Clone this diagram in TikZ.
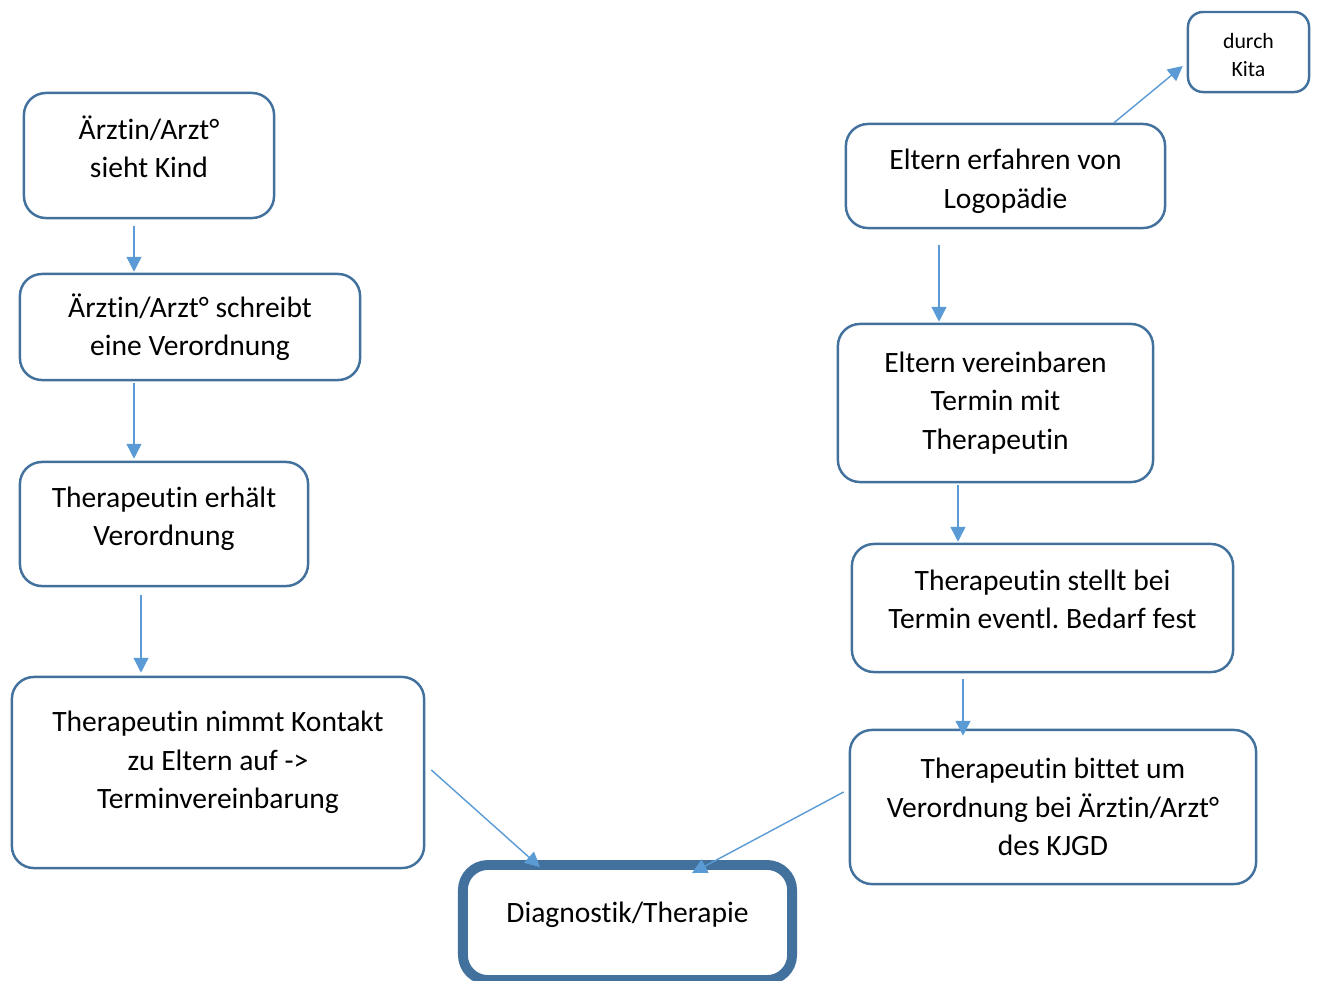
\documentclass[tikz,border=0pt]{standalone}
\usepackage{fontspec}
\setmainfont{Carlito}[Ligatures=NoCommon]
\usepackage{tikz}
\usetikzlibrary{positioning,calc,arrows.meta}
\definecolor{boxblue}{HTML}{41719C}
\definecolor{arrowblue}{HTML}{5B9BD5}
\newcommand{\dropby}[1]{\rule[-#1]{0pt}{0pt}}
\newcommand{\topby}[1]{\rule{0pt}{#1}}
\frenchspacing

\begin{document}
\begin{tikzpicture}[
  x=0.01cm,y=-0.01cm,
  stepbox/.style={draw=boxblue,line width=0.7pt,rounded corners=0.22cm,
    align=center,inner sep=0pt,font=\fontsize{8.4}{10.9}\selectfont},
  mainbox/.style={stepbox,line width=2.8pt,rounded corners=0.25cm},
  arr/.style={-{Triangle[length=4.2pt,width=4.2pt]},draw=arrowblue,
    fill=arrowblue,line width=0.4pt}
  ]
  \useasboundingbox (0,0) rectangle (1317,981);

  % left column
  \node[stepbox,minimum width=2.50cm,minimum height=1.25cm] (sieht) at (149,155.5)
    {Ärztin/Arzt°\\sieht Kind\dropby{5.1pt}};
  \node[stepbox,minimum width=3.40cm,minimum height=1.06cm] (schreibt) at (190,327)
    {Ärztin/Arzt° schreibt\\eine Verordnung};
  \node[stepbox,minimum width=2.88cm,minimum height=1.24cm] (erhaelt) at (164,524)
    {Therapeutin erhält\\Verordnung\dropby{4.3pt}};
  \node[stepbox,minimum width=4.12cm,minimum height=1.91cm] (kontakt) at (218,772.5)
    {Therapeutin nimmt Kontakt\\zu Eltern auf ->\\Terminvereinbarung\dropby{7.1pt}};

  % goal
  \node[mainbox,minimum width=3.29cm,minimum height=1.15cm] (diag) at (627.5,922.5)
    {Diagnostik/Therapie\dropby{5.6pt}};

  % right column
  \node[stepbox,rounded corners=0.15cm,minimum width=1.21cm,minimum height=0.80cm,
    font=\fontsize{6.2}{8}\selectfont] (kita) at (1248.5,52) {\topby{6pt}durch\\Kita};
  \node[stepbox,minimum width=3.19cm,minimum height=1.04cm] (erfahren) at (1005.5,176)
    {\topby{8.8pt}Eltern erfahren von\\Logopädie};
  \node[stepbox,minimum width=3.15cm,minimum height=1.58cm] (vereinbaren) at (995.5,403)
    {Eltern vereinbaren\\Termin mit\\Therapeutin};
  \node[stepbox,minimum width=3.81cm,minimum height=1.28cm] (bedarf) at (1042.5,608)
    {Therapeutin stellt bei\\Termin eventl. Bedarf fest\dropby{5.1pt}};
  \node[stepbox,minimum width=4.06cm,minimum height=1.54cm] (bittet) at (1053,807)
    {Therapeutin bittet um\\Verordnung bei Ärztin/Arzt°\\des KJGD};

  \draw[arr] ($(sieht.south)+(-15,7)$) -- ($(schreibt.north)+(-56,-1)$);
  \draw[arr] ($(schreibt.south)+(-56,2)$) -- ($(erhaelt.north)+(-30,-2)$);
  \draw[arr] ($(erhaelt.south)+(-23,8)$) -- ($(kontakt.north)+(-77,-3)$);
  \draw[arr] ($(kontakt.east)+(6,-2.5)$) -- ($(diag.north)+(-87.5,7)$);
  \draw[arr] ($(bittet.west)+(-5,-15)$) -- ($(diag.north)+(64.5,13)$);
  \draw[arr] ($(erfahren.north)+(108.5,0)$) -- ($(kita.west)+(-4,14)$);
  \draw[arr] ($(erfahren.south)+(-66.5,16)$) -- ($(vereinbaren.north)+(-56.5,-1)$);
  \draw[arr] ($(vereinbaren.south)+(-37.5,2)$) -- ($(bedarf.north)+(-84.5,-1)$);
  \draw[arr] ($(bedarf.south)+(-79.5,6)$) -- ($(bittet.north)+(-90,7)$);
\end{tikzpicture}
\end{document}
